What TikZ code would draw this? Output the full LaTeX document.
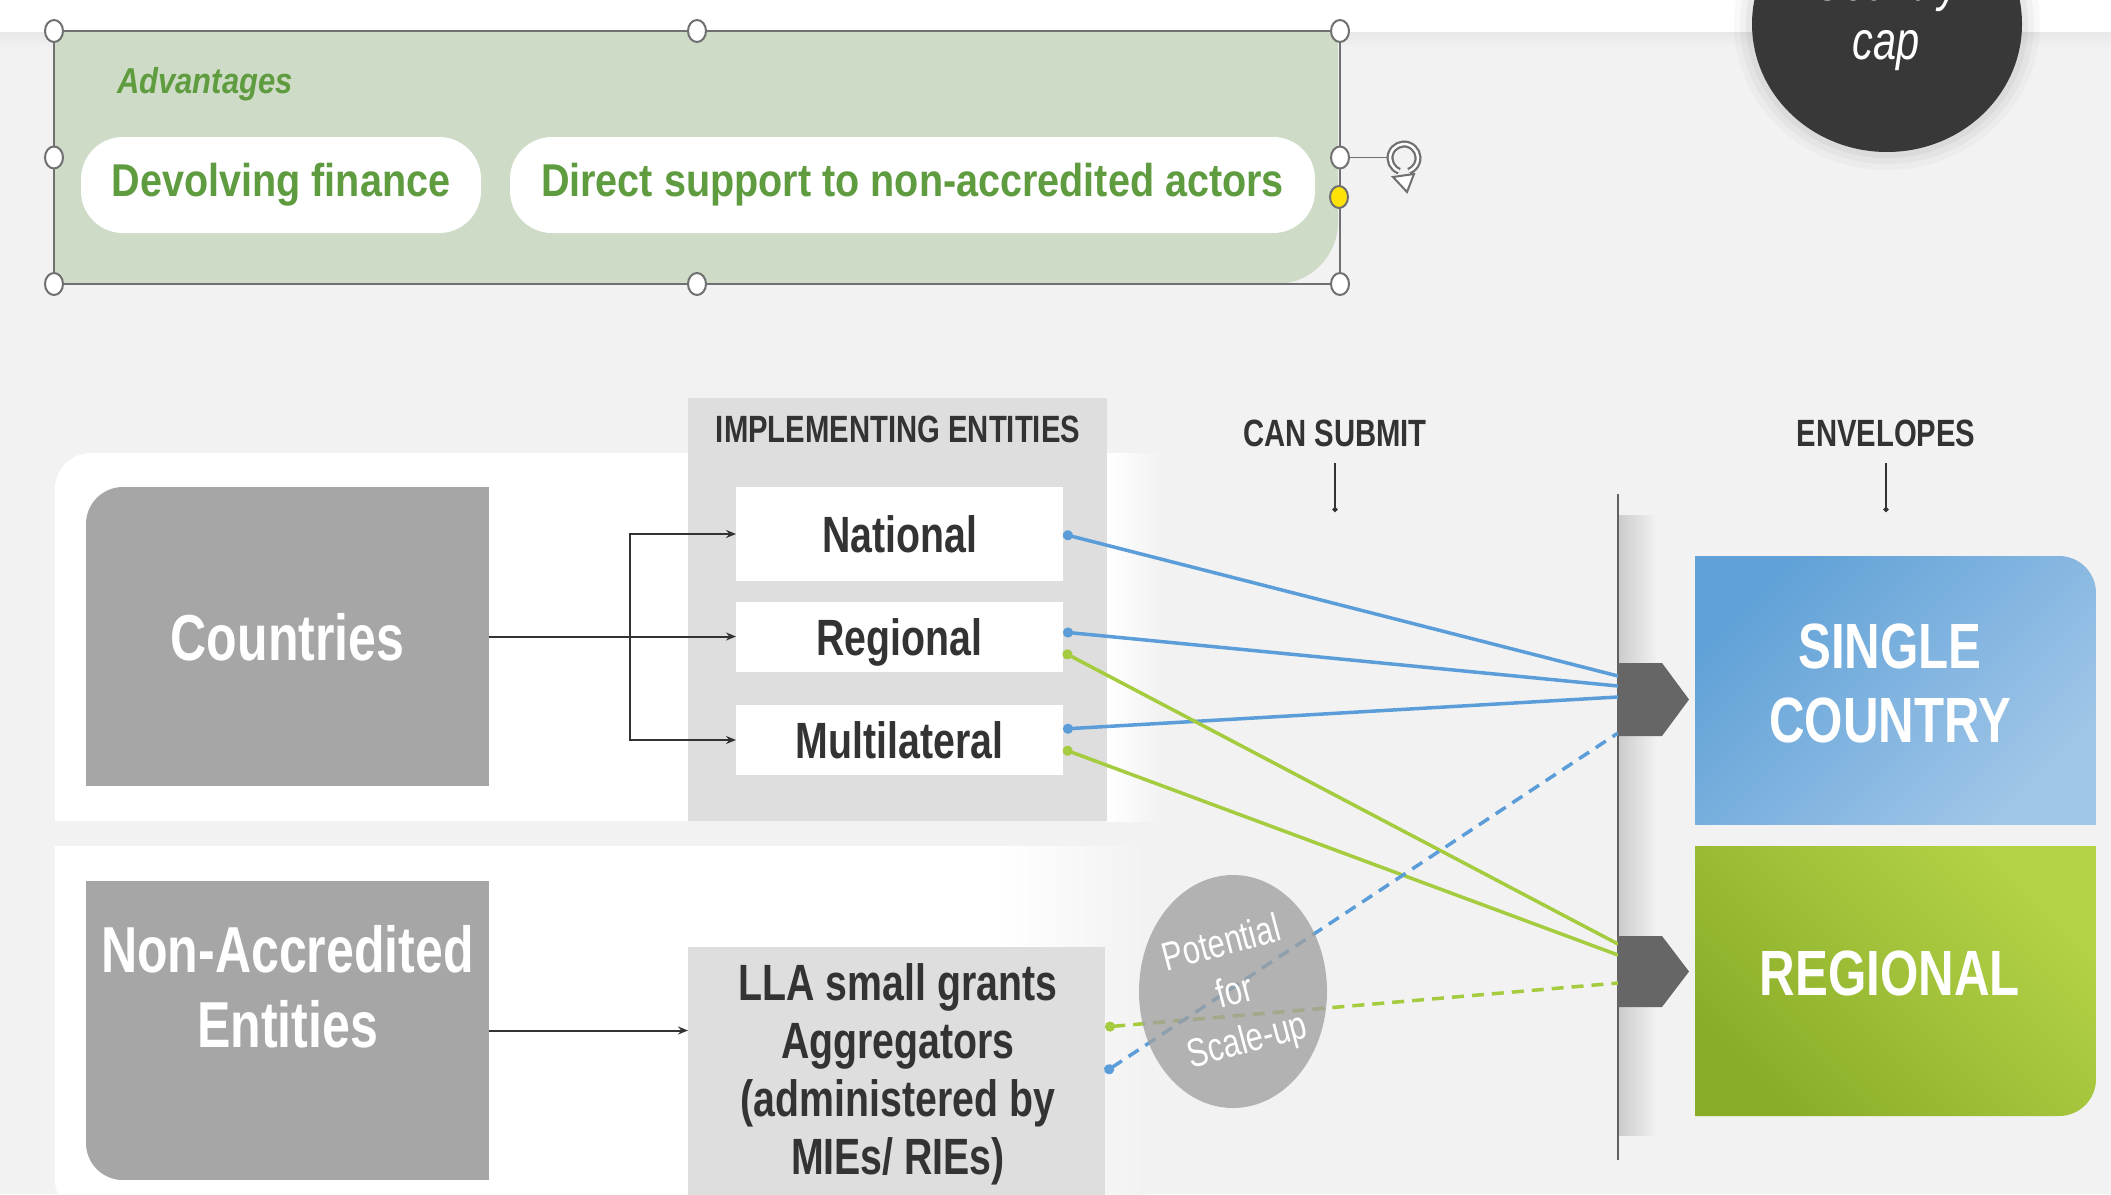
\documentclass[tikz,border=0pt]{standalone}
\usepackage{fontspec}
\setmainfont{Liberation Sans}
\newfontfamily\nf[FakeStretch=0.77]{Liberation Sans}
\newfontfamily\pf[FakeStretch=0.86]{Liberation Sans}
\usetikzlibrary{arrows.meta,fadings}
\definecolor{bg}{RGB}{242,242,242}
\definecolor{sage}{RGB}{206,219,198}
\definecolor{pillgreen}{RGB}{95,155,63}
\definecolor{boxgray}{RGB}{166,166,166}
\definecolor{colgray}{RGB}{222,222,222}
\definecolor{txtdark}{RGB}{51,51,51}
\definecolor{lineblue}{RGB}{91,157,217}
\definecolor{linegreen}{RGB}{165,203,62}
\definecolor{chevgray}{RGB}{102,102,102}
\definecolor{blueA}{RGB}{96,161,215}
\definecolor{blueB}{RGB}{160,198,232}
\definecolor{greenA}{RGB}{180,211,72}
\definecolor{greenB}{RGB}{138,173,40}
\definecolor{darkcirc}{RGB}{56,56,56}
\definecolor{handle}{RGB}{112,112,112}
\definecolor{ellgray}{RGB}{160,160,160}
\pgfdeclareverticalshading{shfadeshade}{100bp}{color(0bp)=(black); color(18bp)=(white); color(82bp)=(white); color(100bp)=(black)}
\pgfdeclarefading{shfade}{\pgfuseshading{shfadeshade}}
\begin{document}
\begin{tikzpicture}[x=1pt, y=-1pt,
  arr/.style={draw=txtdark, line width=2pt, -{Stealth[length=10pt,width=8pt]}},
  bsolid/.style={draw=lineblue, line width=3.5pt, {Circle[length=10pt]}-},
  gsolid/.style={draw=linegreen, line width=3.5pt, {Circle[length=10pt]}-},
  bdash/.style={bsolid, dash pattern=on 12pt off 8pt},
  gdash/.style={gsolid, dash pattern=on 12pt off 8pt},
  hdr/.style={text=txtdark, inner sep=0pt, font=\nf\bfseries\fontsize{38}{44}\selectfont},
  ent/.style={fill=white, minimum width=327pt, inner sep=0pt, outer sep=0pt, anchor=north west, text=txtdark, font=\nf\bfseries\fontsize{51}{58}\selectfont, text height=37pt, text depth=0pt},
  pill/.style={fill=white, rounded corners=42pt, minimum height=96pt, inner sep=0pt, text=pillgreen, font=\pf\bfseries\fontsize{46}{55}\selectfont},
  bigwhite/.style={text=white, inner sep=0pt, align=center, font=\nf\bfseries\fontsize{65}{75}\selectfont},
  envtext/.style={text=white, inner sep=0pt, align=center, font=\nf\bfseries\fontsize{64}{74}\selectfont},
  darktext/.style={text=txtdark, inner sep=0pt, align=center, font=\nf\bfseries\fontsize{51}{58}\selectfont},
  handlept/.style={fill=white, draw=handle, line width=2pt},
  ticker/.style={draw=txtdark, line width=2pt, -{Circle[length=5pt]}},
  slot/.style={inner sep=0pt, outer sep=0pt, anchor=north west},
]
\useasboundingbox (0,0) rectangle (2111,1194);
\clip (0,0) rectangle (2111,1194);
\fill[bg] (0,0) rectangle (2111,1194);
\fill[white] (0,0) rectangle (2111,32);
\shade[top color=black!9, bottom color=bg] (0,32) rectangle (2111,48);

% dark circle (Country cap)
\foreach \r/\o in {18/0.025,12/0.03,6/0.04} {\fill[black, opacity=\o] (1887,24) ellipse [x radius=135+\r, y radius=128+\r];}
\fill[darkcirc] (1887,24) ellipse [x radius=135, y radius=128];
\node[anchor=south, text=white, align=center, inner sep=0pt, font=\nf\itshape\fontsize{54}{59}\selectfont] (ccap) at (1886,71) {Country\\cap};

% Advantages box
\begin{scope}
\clip[rounded corners=62pt] (-100,-100) rectangle (1338,284);
\fill[sage] (54,31) rectangle (1338,284);
\end{scope}
\node[anchor=base west, inner sep=0pt, text=pillgreen, font=\pf\bfseries\itshape\fontsize{36}{40}\selectfont] (adv) at (117,93) {Advantages};
\node[pill, minimum width=400pt] (devolve) at (281,185) {Devolving finance};
\node[pill, minimum width=805pt] (direct) at (912.5,185) {Direct support to non-accredited actors};
% selection frame
\draw[handle, line width=1.5pt] (54,31) rectangle (1340,284);
\draw[handle, line width=1.5pt] (1349,157.5) -- (1388,157.5);
\foreach \x/\y in {54/31,697/31,1340/31,54/157.5,1340/157.5,54/284,697/284,1340/284} {\filldraw[handlept] (\x,\y) ellipse [x radius=9, y radius=11];}
\filldraw[handlept, fill=yellow!85!orange] (1339,197) ellipse [x radius=9, y radius=11];
\draw[handle, line width=7pt] (1404,158) ++(110:14) arc[start angle=110, end angle=430, radius=14];
\draw[white, line width=2.5pt] (1404,158) ++(110:14) arc[start angle=110, end angle=430, radius=14];
\filldraw[fill=white, draw=handle, line width=2pt] (1393,177) -- (1414,174) -- (1407,192) -- cycle;

% panels
\begin{scope}
\clip[rounded corners=36pt] (55,453) rectangle (2500,2500);
\fill[white] (55,453) rectangle (1107,821);
\end{scope}
\shade[left color=white, right color=bg] (1107,453) rectangle (1162,821);
\begin{scope}
\clip[rounded corners=36pt] (55,-500) rectangle (2500,1216);
\fill[white] (55,846) rectangle (1000,1216);
\end{scope}
\shade[left color=white, right color=bg] (1000,846) rectangle (1145,1216);

% left gray boxes
\begin{scope}
\clip[rounded corners=37pt] (86,487) rectangle (700,1000);
\fill[boxgray] (86,487) rectangle (489,786);
\end{scope}
\node[slot, minimum width=403pt, minimum height=299pt, text=white, font=\nf\bfseries\fontsize{65}{75}\selectfont, text height=47pt, text depth=0pt] (countries) at (86,487) {Countries};
\begin{scope}
\clip[rounded corners=37pt] (86,600) rectangle (700,1180);
\fill[boxgray] (86,881) rectangle (489,1180);
\end{scope}
\node[slot, minimum width=403pt, minimum height=299pt] (nae) at (86,881) {};
\node[bigwhite, anchor=north] (naetext) at (287.5,925) {Non-Accredited\\Entities};

% implementing entities column
\fill[colgray] (688,398) rectangle (1107,821);
\node[hdr, anchor=base] (iehdr) at (898,442) {IMPLEMENTING ENTITIES};
\node[ent, minimum height=94pt] (national) at (736,487) {National};
\node[ent, minimum height=70pt] (regional) at (736,602) {Regional};
\node[ent, minimum height=70pt] (multi) at (736,705) {Multilateral};

% LLA box
\node[slot, fill=colgray, minimum width=417pt, minimum height=300pt] (lla) at (688,947) {};
\node[darktext, anchor=north] (llatext) at (898,963) {LLA small grants\\Aggregators\\(administered by\\MIEs/ RIEs)};

% arrows from left boxes
\draw[arr] (countries.east) -- (regional.west |- countries.east);
\draw[arr] ([xshift=141pt]countries.east) |- (national.west);
\draw[arr] ([xshift=141pt]countries.east) |- (multi.west);
\draw[arr] (nae.east) -- (lla.west |- nae.east);

% column headers
\node[hdr, anchor=base] (cansub) at (1335,446) {CAN SUBMIT};
\node[hdr, anchor=base] (envhdr) at (1886,446) {ENVELOPES};
\draw[ticker] ([yshift=-17pt]cansub.base) -- ++(0,49);
\draw[ticker] ([yshift=-17pt]envhdr.base) -- ++(0,49);

% separator and shadow
\fill[left color=black!20, right color=bg, path fading=shfade] (1619,515) rectangle (1657,1135);
\draw[draw=black!62, line width=2pt] (1618,494) -- (1618,1160);

\coordinate (chsc) at (1618,699.5);
\coordinate (chrg) at (1618,971.5);

% connectors
\draw[bsolid] (national.east) -- ([yshift=23.5pt]chsc);
\draw[bsolid] ([yshift=5pt]regional.east) -- ([yshift=13.5pt]chsc);
\draw[bsolid] ([yshift=11pt]multi.east) -- ([yshift=2.5pt]chsc);
\draw[gsolid] ([yshift=-15pt]regional.east) -- ([yshift=27.5pt]chrg);
\draw[gsolid] ([yshift=-9pt]multi.east) -- ([yshift=16.5pt]chrg);
\draw[gdash] ([yshift=70pt]lla.east) -- ([yshift=-11.5pt]chrg);
\draw[bdash] ([yshift=25pt]lla.east) -- ([yshift=-33.5pt]chsc);

% potential ellipse
\fill[ellgray, opacity=0.78] (1233,991.5) ellipse [x radius=94, y radius=116.5];
\node[rotate=15, align=center, text=white, inner sep=0pt, font=\nf\fontsize{40}{50}\selectfont] (pot) at (1235,994) {Potential\\for\\Scale-up};

% chevrons
\fill[chevgray] (1618,663) -- (1662,663) -- (1689,699.5) -- (1662,736) -- (1618,736) -- cycle;
\fill[chevgray] (1618,936) -- (1662,936) -- (1689,971.5) -- (1662,1007) -- (1618,1007) -- cycle;

% envelopes
\begin{scope}
\clip[rounded corners=37pt] (1500,556) rectangle (2096,1500);
\shade[top color=blueA, bottom color=blueB, shading angle=45] (1695,556) rectangle (2096,824);
\end{scope}
\node[slot, minimum width=401pt, minimum height=268pt] (single) at (1695,556) {};
\node[envtext, anchor=north] (singletext) at (1890,624) {SINGLE\\COUNTRY};
\begin{scope}
\clip[rounded corners=37pt] (1500,0) rectangle (2096,1116);
\shade[top color=greenA, bottom color=greenB, shading angle=-45] (1695,846) rectangle (2096,1116);
\end{scope}
\node[slot, minimum width=401pt, minimum height=270pt] (regenv) at (1695,846) {};
\node[envtext, anchor=base] (regtext) at (1890,995) {REGIONAL};
\end{tikzpicture}
\end{document}
